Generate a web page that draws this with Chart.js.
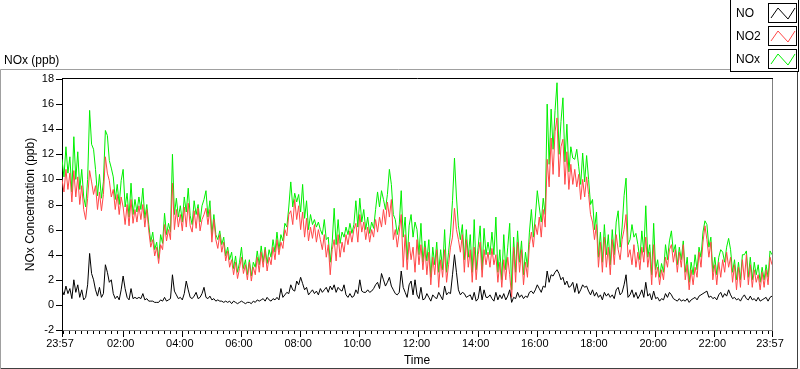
<!DOCTYPE html>
<html><head><meta charset="utf-8">
<style>html,body{margin:0;padding:0;background:#fff;overflow:hidden}canvas{display:block}</style>
<script src="https://cdn.jsdelivr.net/npm/chart.js@4.4.1/dist/chart.umd.min.js"></script>
</head><body>
<canvas id="c" width="800" height="369"></canvas>
<script>
// sampling interval of the series (minutes after 23:57)
const sampleStepMinutes = 4;
// x axis ticks (minutes after 23:57) and their labels
const timeTickMinutes = [0,123,243,363,483,603,723,843,963,1083,1203,1323,1440];
const timeTickLabels = ["23:57","02:00","04:00","06:00","08:00","10:00","12:00","14:00","16:00","18:00","20:00","22:00","23:57"];
const yMin = -2, yMax = 18, yStep = 2;
const seriesNames = ["NO","NO2","NOx"];
const yTitle = "NOx Concentration (ppb)";
const xTitle = "Time";
const caption = "NOx (ppb)";

const no = [
1.2,0.8,1.5,0.9,1.3,0.5,2.0,1.0,1.6,0.6,1.2,0.4,
0.6,1.6,4.1,2.5,2.0,1.2,0.7,1.4,0.6,0.9,3.2,2.6,
1.8,2.0,0.9,0.5,0.7,0.4,1.2,2.3,1.3,0.6,0.4,1.3,
0.5,0.6,0.5,0.6,0.5,0.9,0.4,0.5,0.3,0.3,0.3,0.2,
0.2,0.2,0.4,0.3,0.6,0.3,0.4,0.5,2.4,1.1,0.8,0.5,
0.6,0.4,0.9,1.9,1.2,0.6,0.5,0.7,1.0,0.5,0.6,0.9,
1.4,0.6,0.5,0.7,0.4,0.5,0.3,0.4,0.3,0.3,0.2,0.3,
0.2,0.3,0.1,0.3,0.2,0.1,0.2,0.3,0.2,0.1,0.2,0.2,
0.1,0.3,0.2,0.4,0.3,0.4,0.5,0.3,0.6,0.4,0.3,0.5,
0.4,0.6,0.4,1.3,0.6,0.8,1.0,0.9,1.6,1.2,1.1,1.9,
1.6,2.2,1.7,1.2,1.4,0.8,1.0,1.2,0.9,1.1,0.8,1.3,
1.0,1.2,1.4,1.0,1.5,1.2,1.6,1.0,1.4,1.2,1.1,1.6,
0.8,0.6,0.9,0.6,0.7,1.2,0.9,2.0,1.1,1.0,1.0,1.2,
1.0,1.1,1.3,1.6,1.8,1.3,2.5,2.0,1.5,1.8,2.2,1.5,
1.2,0.9,0.8,1.0,2.7,1.4,1.0,0.6,1.6,1.9,0.8,2.0,
0.8,0.5,1.4,0.4,0.5,0.9,0.6,0.3,0.8,0.6,0.5,1.0,
0.7,0.4,1.5,0.8,1.0,0.9,2.4,4.0,2.6,1.2,0.8,1.0,
0.9,0.6,0.7,0.8,0.4,1.0,0.3,0.5,1.5,0.4,1.2,0.6,
0.6,0.8,0.5,0.3,1.0,0.4,0.8,0.5,0.9,0.4,0.7,1.2,
0.2,0.6,0.5,1.0,0.6,0.8,0.5,0.7,0.6,1.0,1.1,0.9,
1.2,1.6,1.3,1.0,1.5,1.4,2.7,1.8,2.4,2.3,2.6,2.8,
2.5,2.0,2.2,1.6,1.9,1.4,1.5,1.8,1.0,1.7,0.9,1.2,
1.6,1.4,1.5,1.1,0.8,1.2,0.7,1.0,0.6,0.8,0.4,1.0,
0.7,0.9,0.6,0.8,0.5,1.2,1.4,0.8,1.0,1.6,2.4,0.6,
0.8,1.2,0.6,1.0,0.5,0.8,1.2,0.6,1.8,0.7,0.9,0.4,
1.1,0.5,0.6,0.3,0.5,0.4,0.9,0.6,1.0,0.8,0.5,0.4,
0.3,0.5,0.3,0.4,0.3,0.5,0.2,0.4,0.5,0.6,0.4,0.7,
0.8,0.9,1.0,1.1,0.6,0.7,0.5,0.6,0.4,0.8,1.0,0.6,
0.9,0.7,1.2,0.8,0.5,0.6,0.4,0.5,0.3,0.6,0.8,0.5,
0.4,0.7,0.4,0.5,0.3,0.6,0.3,0.4,0.5,0.6,0.3,0.6,
0.7];

const no2 = [
10.0,9.0,10.8,9.2,10.5,8.2,10.7,8.6,10.2,8.0,9.5,7.6,
6.8,8.5,10.7,9.8,8.8,9.5,7.6,9.0,7.5,8.8,11.8,10.5,
9.9,8.6,9.2,7.6,8.8,7.2,8.6,7.8,6.4,8.0,6.3,8.4,
6.5,7.6,6.6,7.9,6.8,8.0,6.2,7.6,5.9,4.6,5.2,3.9,
4.6,3.3,4.8,4.4,6.4,5.1,6.0,5.2,9.7,6.0,7.6,6.2,
7.2,5.9,7.8,6.2,8.1,6.3,5.8,7.5,6.1,7.7,5.9,6.8,
7.2,7.7,6.4,7.6,5.0,6.8,5.2,4.5,5.6,4.2,5.0,3.5,
4.3,3.0,3.6,2.4,3.4,2.1,2.9,3.8,2.5,3.2,2.0,3.4,
1.9,3.0,2.4,3.8,2.6,4.2,3.0,4.4,2.7,3.8,3.2,4.6,
3.6,5.2,4.0,5.0,4.5,6.0,5.5,7.2,7.5,6.4,8.4,6.8,
7.9,6.0,7.4,5.4,6.9,5.1,6.2,5.3,6.4,5.0,6.0,5.2,
4.4,5.6,3.8,4.8,2.4,4.4,5.2,3.5,5.6,3.8,5.0,4.2,
5.6,4.8,5.9,5.0,6.0,6.5,5.0,7.2,5.8,6.6,5.2,6.2,
5.0,6.0,5.4,6.8,5.8,7.0,6.2,7.6,6.4,8.2,7.0,8.4,
5.2,6.0,4.6,5.8,7.2,3.0,5.6,2.8,5.0,3.6,4.6,2.6,
5.2,3.2,4.8,2.8,4.6,2.4,4.2,1.6,3.8,2.4,4.4,1.4,
3.6,2.2,4.4,1.8,3.2,4.6,5.4,7.7,6.0,5.2,4.2,5.6,
2.6,5.2,3.0,4.4,1.8,4.6,2.0,4.0,5.0,2.2,4.4,3.2,
4.2,3.0,4.5,3.2,4.0,1.8,3.4,1.4,3.6,2.0,3.8,2.4,
0.6,4.6,1.8,5.0,2.6,4.4,1.6,3.4,2.2,4.8,5.8,4.6,
6.4,5.6,7.0,5.4,7.6,6.2,11.6,9.4,13.3,10.4,13.8,14.9,
10.2,12.6,13.2,9.6,12.2,9.2,11.2,9.6,10.8,9.4,10.4,8.4,
10.0,8.6,10.2,8.8,7.2,6.6,5.2,6.4,3.0,5.0,2.6,5.4,
3.0,4.6,2.4,5.2,3.2,5.6,4.4,3.6,5.2,6.0,7.2,3.8,
4.4,3.2,4.8,3.0,4.2,2.8,4.6,3.4,5.4,3.0,4.2,1.6,
4.8,2.2,3.0,1.6,2.8,2.0,3.8,3.0,4.4,4.8,3.4,4.4,
2.6,4.2,3.0,4.8,2.0,3.2,1.2,2.8,1.6,3.0,2.2,4.2,
3.0,5.0,6.3,5.2,3.8,5.0,2.0,3.2,1.6,3.4,2.2,3.6,
2.6,4.2,3.0,3.8,1.8,3.2,1.2,3.0,1.4,3.6,2.0,4.0,
1.6,3.2,1.4,2.8,1.8,2.4,1.2,2.6,1.4,2.8,1.6,3.8,
3.2];

const nox = [
11.6,10.2,12.6,10.5,11.8,9.0,13.4,10.0,12.2,9.2,10.8,8.6,
7.8,10.0,15.5,12.8,12.4,10.8,8.7,10.4,8.5,9.8,13.9,13.5,
11.5,10.9,10.2,8.4,9.6,8.0,9.9,10.8,7.8,8.9,7.0,9.7,
7.2,8.4,7.4,8.6,7.6,9.3,6.9,8.0,6.4,5.0,5.8,4.4,
5.0,3.7,5.6,4.9,7.3,5.6,6.5,5.8,12.0,7.2,8.5,7.0,
7.9,6.6,8.6,7.4,9.3,7.1,6.4,8.3,7.2,8.0,6.6,7.9,
8.4,9.1,7.0,8.3,5.6,7.2,5.6,5.2,5.9,4.8,5.4,3.9,
4.6,3.6,4.2,2.9,3.9,2.6,3.4,4.6,2.9,3.6,2.4,3.6,
2.3,3.4,3.0,4.3,3.2,4.7,3.4,4.6,3.3,4.4,3.8,5.2,
4.2,5.8,4.4,5.6,5.1,6.5,6.2,7.8,9.8,7.8,8.9,8.2,
8.8,7.4,9.6,6.9,8.3,6.0,7.2,6.4,6.8,6.2,6.6,6.0,
5.6,6.8,5.2,5.4,3.4,5.0,7.7,4.8,6.8,4.9,5.8,5.4,
6.2,5.6,6.5,5.7,6.4,8.3,6.2,8.5,6.6,7.6,6.0,7.0,
5.7,6.6,6.1,7.6,9.0,7.8,9.1,8.4,7.6,8.8,10.8,9.6,
7.2,6.8,5.6,6.4,9.1,5.4,7.0,3.6,6.3,7.2,5.4,6.6,
6.0,4.0,6.5,3.4,5.1,3.5,5.2,2.2,4.6,3.2,5.0,2.6,
4.4,2.8,6.0,2.6,4.2,5.8,8.3,11.7,8.6,6.3,5.2,6.4,
3.6,6.0,3.8,5.6,2.6,6.8,2.8,4.6,6.3,2.8,6.1,4.0,
5.0,4.0,5.8,4.0,7.0,2.6,4.4,2.0,5.6,2.8,4.6,6.5,
1.2,5.4,2.6,5.9,3.4,5.1,2.4,4.2,3.0,5.8,7.6,5.4,
7.0,9.1,7.8,6.6,8.5,7.2,16.0,11.2,15.6,12.4,15.5,17.7,
12.0,14.6,16.5,11.4,14.4,10.6,12.6,11.7,11.6,12.4,11.0,9.6,
12.1,9.8,11.9,10.0,8.0,8.4,6.0,7.4,3.8,5.8,3.4,6.4,
4.0,5.6,3.2,6.0,4.0,6.6,7.5,4.6,6.2,8.7,10.1,4.8,
5.2,6.4,5.4,5.7,4.8,3.6,5.9,4.2,7.9,3.8,4.8,2.4,
6.5,2.8,3.6,2.2,3.3,2.6,4.8,3.6,5.1,5.9,4.2,4.8,
3.2,4.6,3.6,5.1,2.6,3.8,1.8,3.4,2.4,4.0,2.8,4.6,
3.8,5.8,6.7,6.4,4.6,5.4,2.6,3.8,2.4,3.8,4.4,4.2,
3.4,4.6,5.3,4.4,2.6,3.6,2.0,3.4,2.0,4.0,4.0,4.3,
2.2,3.8,2.0,3.4,2.4,3.2,1.8,3.0,2.0,3.2,2.2,4.3,
4.0];

const seriesColors = ["#000000","#ff4848","#00f000"];
const FONT = "'Liberation Sans', Arial, sans-serif";

function toPoints(arr){ return arr.map((v,i)=>({x:i*sampleStepMinutes, y:v})); }

const deco = {
  id:'deco',
  beforeDraw(chart){
    const c = chart.ctx; c.save();
    c.fillStyle = '#fff'; c.fillRect(0,0,chart.width,chart.height);
    // outer panel frame
    c.lineWidth = 1;
    c.strokeStyle = '#a0a0a0';
    c.beginPath(); c.moveTo(0.5,368); c.lineTo(0.5,69.5); c.lineTo(797,69.5); c.stroke();
    c.strokeStyle = '#404040';
    c.beginPath(); c.moveTo(0.5,368.5); c.lineTo(797.5,368.5); c.lineTo(797.5,69.5); c.stroke();
    c.restore();
  },
  afterDraw(chart){
    const c = chart.ctx, a = chart.chartArea;
    const xs = chart.scales.x, ys = chart.scales.y;
    c.save();
    c.lineWidth = 1;
    // plot area top (black) and right (grey) borders
    c.strokeStyle = '#000';
    c.beginPath(); c.moveTo(a.left, Math.round(a.top)-0.5); c.lineTo(a.right+1, Math.round(a.top)-0.5); c.stroke();
    c.strokeStyle = '#808080';
    c.beginPath(); c.moveTo(Math.round(a.right)+0.5, a.top); c.lineTo(Math.round(a.right)+0.5, a.bottom); c.stroke();
    // x tick marks: majors + minors every 12 minutes
    c.strokeStyle = '#000';
    const b = Math.round(a.bottom);
    for (let m = 3; m <= xs.max; m += 12) {
      const px = Math.round(xs.getPixelForValue(m)) + 0.5;
      c.beginPath(); c.moveTo(px, b+1); c.lineTo(px, b+4); c.stroke();
    }
    timeTickMinutes.forEach(m=>{
      const px = Math.round(xs.getPixelForValue(m)) + 0.5;
      c.beginPath(); c.moveTo(px, b+1); c.lineTo(px, b+7); c.stroke();
    });
    // y tick marks
    for (let v = yMin; v <= yMax; v += yStep) {
      const py = Math.round(ys.getPixelForValue(v)) + 0.5;
      c.beginPath(); c.moveTo(a.left-6, py); c.lineTo(a.left, py); c.stroke();
    }
    // y axis title
    c.fillStyle = '#000';
    c.font = '12px ' + FONT;
    c.save();
    c.translate(31, (a.top + a.bottom)/2);
    c.rotate(-Math.PI/2);
    c.textAlign = 'center'; c.textBaseline = 'middle';
    c.fillText(yTitle, 0, 0);
    c.restore();
    // top-left caption
    c.textBaseline = 'alphabetic'; c.textAlign = 'left';
    c.fillText(caption, 4, 64);
    // legend box
    c.fillStyle = '#fff';
    c.fillRect(730, 0, 70, 72);
    c.strokeStyle = '#000';
    c.strokeRect(730.5, -0.5, 68, 72);
    chart.data.datasets.forEach((ds, i)=>{
      const top = 3 + i*23;
      c.fillStyle = '#000';
      c.font = '12px ' + FONT;
      c.fillText(ds.label, 736, top + 14);
      c.strokeStyle = '#000';
      c.strokeRect(768.5, top + 0.5, 28, 19);
      c.strokeStyle = ds.borderColor;
      c.beginPath();
      c.moveTo(771, top+15); c.lineTo(778, top+5); c.lineTo(788, top+16); c.lineTo(795, top+5);
      c.stroke();
    });
    c.restore();
  }
};

new Chart(document.getElementById('c').getContext('2d'), {
  type:'line',
  data:{ datasets:[
    {label:seriesNames[0], data:toPoints(no),  borderColor:seriesColors[0]},
    {label:seriesNames[1], data:toPoints(no2), borderColor:seriesColors[1]},
    {label:seriesNames[2], data:toPoints(nox), borderColor:seriesColors[2]}
  ]},
  options:{
    responsive:false, animation:false, devicePixelRatio:1,
    layout:{padding:{left:0, top:79, right:28, bottom:0}},
    plugins:{legend:{display:false}, tooltip:{enabled:false}},
    elements:{point:{radius:0}, line:{borderWidth:1, tension:0, fill:false}},
    scales:{
      x:{type:'linear', min:0, max:1440,
        grid:{display:false, drawTicks:false}, border:{display:true, color:'#808080'},
        afterBuildTicks:s=>{ s.ticks = timeTickMinutes.map(v=>({value:v})); },
        ticks:{autoSkip:false, maxRotation:0, padding:7, labelOffset:-2, color:'#000',
          font:{family:FONT, size:11}, callback:(v,i)=>timeTickLabels[i]},
        title:{display:true, text:xTitle, color:'#000', font:{family:FONT, size:12}, padding:{top:0, bottom:1}},
        afterFit:s=>{ s.height = 39; }
      },
      y:{min:yMin, max:yMax,
        grid:{display:false, drawTicks:false}, border:{display:true, color:'#000'},
        ticks:{stepSize:yStep, padding:8, color:'#000', font:{family:FONT, size:11}},
        title:{display:false},
        afterFit:s=>{ s.width = 62; }
      }
    }
  },
  plugins:[deco]
});
</script>
</body></html>
